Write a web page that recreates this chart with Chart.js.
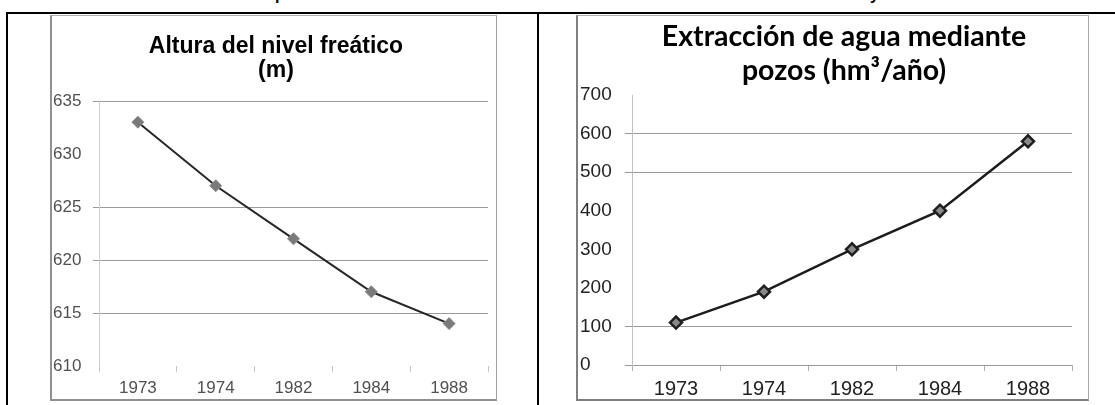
<!DOCTYPE html>
<html>
<head>
<meta charset="utf-8">
<script src="https://cdn.jsdelivr.net/npm/chart.js@4.4.0/dist/chart.umd.min.js"></script>
<style>
  body { margin: 0; background: #fff; width: 1115px; height: 405px; overflow: hidden; position: relative; font-family: "Liberation Sans", Arial, sans-serif; }
  .rule { position: absolute; background: #000; }
  .box { position: absolute; box-sizing: border-box; pointer-events: none; }
  canvas { position: absolute; }
  .title { position: absolute; text-align: center; font-weight: bold; color: #000; white-space: nowrap; }
  .cut { position: absolute; font: bold 16px "Liberation Sans", Arial, sans-serif; line-height: 16px; }
</style>
</head>
<body>
<span class="cut" style="left:275px; top:-13px;">p</span>
<span class="cut" style="left:870px; top:-13px;">y</span>

<div class="rule" style="left:6px; top:12px; right:0; height:2px;"></div>
<div class="rule" style="left:6px; top:12px; width:2px; bottom:0;"></div>
<div class="rule" style="left:537px; top:12px; width:2px; bottom:0;"></div>

<canvas id="chart-nivel" width="446" height="385" style="left:50px; top:15px;"></canvas>
<div class="box" style="left:50px; top:15px; width:447px; height:386px; border-style:solid; border-color:#b0b0b0 #a0a0a0 #909090 #909090; border-width:1px 1px 2px 2px;"></div>
<div class="title" style="left:50px; top:33px; width:452px; font-size:23px; line-height:24px; font-family:'Liberation Sans', Arial, sans-serif;">Altura del nivel freático<br>(m)</div>

<canvas id="chart-pozos" width="513" height="385" style="left:576px; top:15px;"></canvas>
<div class="box" style="left:576px; top:15px; width:513px; height:386px; border-style:solid; border-color:#b0b0b0 #a8a8a8 #808080 #808080; border-width:1px 1px 2px 2px;"></div>
<div class="title" style="left:600px; top:18px; width:488px; font-size:28.5px; line-height:34px; font-family:Lato, 'Open Sans', sans-serif;">Extracción de agua mediante<br>pozos (hm³/año)</div>

<script>
const years = ['1973', '1974', '1982', '1984', '1988'];
const nivelFreatico = [633, 627, 622, 617, 614];
const extraccionPozos = [110, 190, 300, 400, 580];

// y ticks and which of them have a visible grid line in the original
const nivelTicks = { min: 610, max: 635, step: 5 };
const nivelGrid = [635, 625, 620, 615];
const pozosTicks = { min: 0, max: 700, step: 100 };
const pozosGrid = [600, 500, 100, 0];

Chart.defaults.animation = false;
Chart.defaults.font.family = '"Liberation Sans", Arial, sans-serif';

function gridColor(shown, color) {
    return (c) => shown.includes(c.tick.value) ? color : 'rgba(0,0,0,0)';
}

const ctxNivel = document.getElementById('chart-nivel');
let chartNivel = new Chart(ctxNivel, {
    type: 'line',
    data: {
        labels: years,
        datasets: [{
            label: 'Altura del nivel freático (m)',
            data: nivelFreatico,
            borderColor: '#262626',
            borderWidth: 2,
            tension: 0,
            pointStyle: 'rectRot',
            pointRadius: 6,
            pointBackgroundColor: '#7a7a7a',
            pointBorderColor: '#8a8a8a',
            pointBorderWidth: 1
        }]
    },
    options: {
        responsive: false,
        layout: { padding: { left: 3, right: 8, top: 86, bottom: 0 } },
        plugins: { legend: { display: false }, tooltip: { enabled: false } },
        scales: {
            x: {
                offset: true,
                afterFit: (s) => { s.height = 34; },
                grid: { offset: true, drawOnChartArea: false, tickLength: 6, color: '#c4c4c4' },
                border: { display: false },
                ticks: { color: '#505050', font: { size: 17 }, padding: 6 }
            },
            y: {
                min: nivelTicks.min,
                max: nivelTicks.max,
                afterFit: (s) => { s.width = 46; },
                grid: { color: gridColor(nivelGrid, '#9a9a9a'), tickLength: 6 },
                border: { display: true, color: '#cfcfcf' },
                ticks: { stepSize: nivelTicks.step, crossAlign: 'far', color: '#505050', font: { size: 17 } }
            }
        }
    }
});

const ctxPozos = document.getElementById('chart-pozos');
let chartPozos = new Chart(ctxPozos, {
    type: 'line',
    data: {
        labels: years,
        datasets: [{
            label: 'Extracción de agua mediante pozos (hm³/año)',
            data: extraccionPozos,
            borderColor: '#1c1c1c',
            borderWidth: 2.5,
            tension: 0,
            pointStyle: 'rectRot',
            pointRadius: 6,
            pointBackgroundColor: '#8a8a8a',
            pointBorderColor: '#1e1e1e',
            pointBorderWidth: 2.5
        }]
    },
    options: {
        responsive: false,
        layout: { padding: { left: 4, right: 17, top: 80, bottom: 0 } },
        plugins: { legend: { display: false }, tooltip: { enabled: false } },
        scales: {
            x: {
                offset: true,
                afterFit: (s) => { s.height = 35; },
                grid: { offset: true, drawOnChartArea: false, tickLength: 6, color: '#b0b0b0' },
                border: { display: false },
                ticks: { color: '#222', font: { size: 20 }, padding: 6 }
            },
            y: {
                min: pozosTicks.min,
                max: pozosTicks.max,
                afterFit: (s) => { s.width = 52; },
                grid: { color: gridColor(pozosGrid, '#999'), tickLength: 7 },
                border: { display: true, color: '#c0c0c0' },
                ticks: { stepSize: pozosTicks.step, crossAlign: 'far', color: '#222', font: { size: 19 } }
            }
        }
    }
});
</script>
</body>
</html>
